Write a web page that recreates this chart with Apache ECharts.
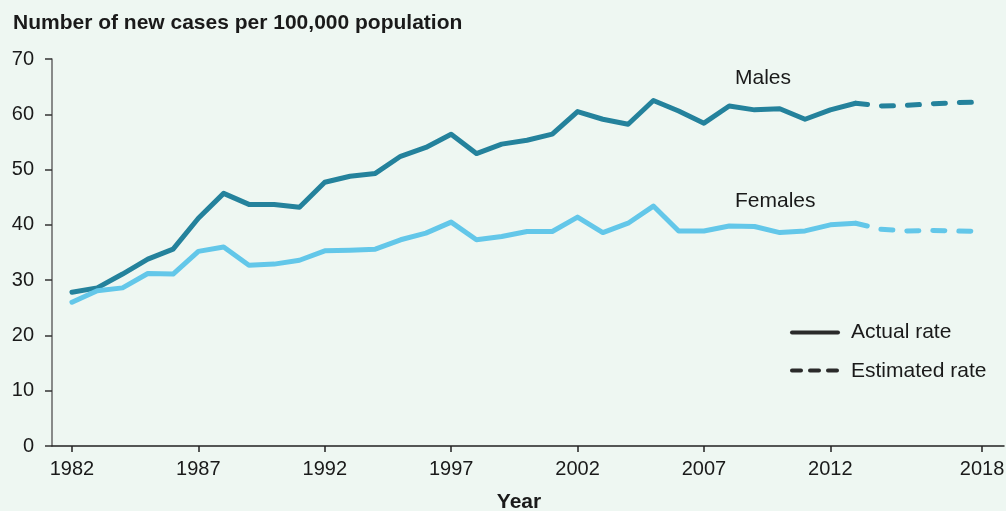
<!DOCTYPE html>
<html>
<head>
<meta charset="utf-8">
<style>
  html, body { margin: 0; padding: 0; background: #eef7f2; }
  #chart { width: 1006px; height: 511px; }
</style>
<script src="https://cdn.jsdelivr.net/npm/echarts@6/dist/echarts.min.js"></script>
</head>
<body>
<div id="chart"></div>
<script>
// ---- Data ----
const actualYears = [1982,1983,1984,1985,1986,1987,1988,1989,1990,1991,1992,1993,1994,1995,1996,1997,1998,1999,2000,2001,2002,2003,2004,2005,2006,2007,2008,2009,2010,2011,2012,2013];
const malesActual = [27.8,28.6,31.1,33.8,35.6,41.2,45.7,43.7,43.7,43.2,47.7,48.8,49.3,52.4,54.0,56.4,52.9,54.6,55.3,56.4,60.5,59.1,58.2,62.5,60.6,58.4,61.5,60.8,61.0,59.1,60.8,62.0];
const femalesActual = [26.0,28.1,28.6,31.2,31.1,35.2,36.0,32.7,32.9,33.6,35.3,35.4,35.6,37.3,38.5,40.5,37.3,37.9,38.8,38.8,41.4,38.6,40.3,43.4,38.9,38.9,39.8,39.7,38.6,38.9,40.0,40.3];
const estimatedYears = [2013,2014,2015,2016,2017,2018];
const malesEstimated = [62.0,61.5,61.6,61.9,62.1,62.2];
const femalesEstimated = [40.3,39.2,38.9,39.0,38.9,38.8];
const xTickValues = [1982,1987,1992,1997,2002,2007,2012,2018];
const titleText = 'Number of new cases per 100,000 population';
const xAxisTitle = 'Year';
const seriesNames = ['Males', 'Females'];
const legendNames = ['Actual rate', 'Estimated rate'];

const pair = (xs, ys) => xs.map((x, i) => [x, ys[i]]);

const MALE = '#24829c';
const FEMALE = '#63c7e9';
const TXT = '#1a1a1a';
const FONT = '"Liberation Sans", Arial, sans-serif';

const chart = echarts.init(document.getElementById('chart'), null, { renderer: 'canvas' });

function lineSeries(name, data, color, dashed) {
  return {
    name: name,
    type: 'line',
    data: data,
    showSymbol: false,
    symbol: 'none',
    silent: true,
    animation: false,
    lineStyle: {
      color: color,
      width: 5,
      type: dashed ? [12, 14] : 'solid',
      cap: 'round',
      join: 'round'
    },
    z: 3
  };
}

chart.setOption({
  backgroundColor: '#eef7f2',
  animation: false,
  grid: { left: 52, right: 2, top: 59, bottom: 65, containLabel: false, outerBoundsMode: 'none' },
  xAxis: {
    type: 'value',
    min: 1981.21,
    max: 2018.87,
    splitLine: { show: false },
    axisLine: { show: true, lineStyle: { color: '#222', width: 1.5 } },
    axisTick: { show: true, length: 6, customValues: xTickValues, lineStyle: { color: '#222', width: 1.5 } },
    axisLabel: {
      customValues: xTickValues,
      formatter: v => String(v),
      color: TXT, fontSize: 20, fontFamily: FONT, margin: 13
    }
  },
  yAxis: {
    type: 'value',
    min: 0, max: 70, interval: 10,
    splitLine: { show: false },
    axisLine: { show: true, lineStyle: { color: '#666', width: 1.5 } },
    axisTick: { show: true, length: 7, lineStyle: { color: '#333', width: 1.5 } },
    axisLabel: { color: TXT, fontSize: 20, fontFamily: FONT, margin: 18 }
  },
  series: [
    lineSeries(seriesNames[0] + ' actual', pair(actualYears, malesActual), MALE, false),
    lineSeries(seriesNames[0] + ' estimated', pair(estimatedYears, malesEstimated), MALE, true),
    lineSeries(seriesNames[1] + ' actual', pair(actualYears, femalesActual), FEMALE, false),
    lineSeries(seriesNames[1] + ' estimated', pair(estimatedYears, femalesEstimated), FEMALE, true)
  ],
  graphic: [
    { type: 'text', left: 13, top: 13, style: { text: titleText, fill: TXT, font: 'bold 21px ' + FONT } },
    { type: 'text', x: 519, y: 502, style: { text: xAxisTitle, fill: TXT, font: 'bold 21px ' + FONT, align: 'center', verticalAlign: 'middle' } },
    { type: 'text', x: 735, y: 78, style: { text: seriesNames[0], fill: TXT, font: '21px ' + FONT, verticalAlign: 'middle' } },
    { type: 'text', x: 735, y: 201, style: { text: seriesNames[1], fill: TXT, font: '21px ' + FONT, verticalAlign: 'middle' } },
    { type: 'line', shape: { x1: 792, y1: 332.5, x2: 838, y2: 332.5 }, style: { stroke: '#2a2a2a', lineWidth: 4, lineCap: 'round' } },
    { type: 'line', shape: { x1: 792, y1: 370.5, x2: 842, y2: 370.5 }, style: { stroke: '#2a2a2a', lineWidth: 4, lineCap: 'round', lineDash: [9, 9] } },
    { type: 'text', x: 851, y: 332, style: { text: legendNames[0], fill: TXT, font: '21px ' + FONT, verticalAlign: 'middle' } },
    { type: 'text', x: 851, y: 371, style: { text: legendNames[1], fill: TXT, font: '21px ' + FONT, verticalAlign: 'middle' } }
  ]
});
</script>
</body>
</html>
